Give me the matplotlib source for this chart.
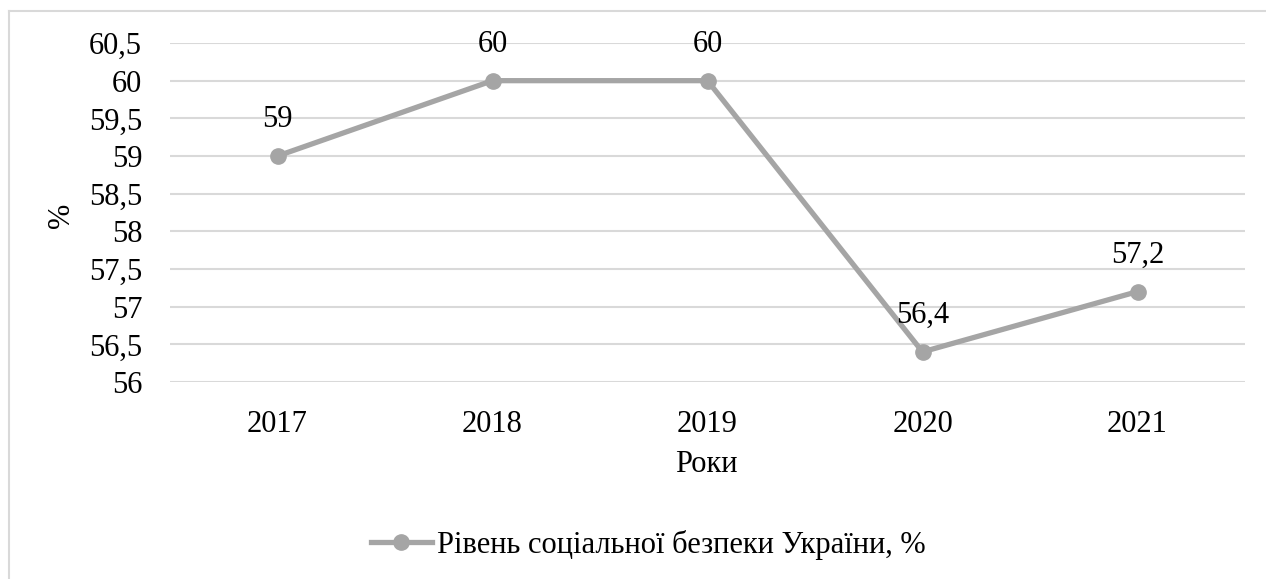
import matplotlib
matplotlib.use("Agg")
from matplotlib import pyplot as plt
from matplotlib.lines import Line2D

# дані
years = ["2017", "2018", "2019", "2020", "2021"]
values = [59, 60, 60, 56.4, 57.2]
value_labels = ["59", "60", "60", "56,4", "57,2"]
y_ticks = [56, 56.5, 57, 57.5, 58, 58.5, 59, 59.5, 60, 60.5]
y_tick_labels = ["56", "56,5", "57", "57,5", "58", "58,5", "59", "59,5", "60", "60,5"]
series_name = "Рівень соціальної безпеки України, %"

plt.rcParams['font.family'] = ['Liberation Serif', 'DejaVu Serif']

grey = '#A5A5A5'
fs = 22
fig = plt.figure(figsize=(12.66, 5.79), dpi=100)
ax = fig.add_axes([170/1266, 1-382/579, 1075/1266, 339/579])

x = list(range(len(years)))
ax.plot(x, values, color=grey, linewidth=3.8, marker='o', markersize=11,
        solid_joinstyle='miter', label=series_name)

for xi, v, lab in zip(x, values, value_labels):
    ax.annotate(lab, (xi, v), xytext=(0, 26), textcoords='offset points',
                ha='center', va='center', fontsize=fs, color='#000000')

ax.set_xlim(-0.5, len(years) - 0.5)
ax.set_ylim(56, 60.5)
ax.set_xticks(x)
ax.set_xticklabels(years, fontsize=fs)
ax.set_yticks(y_ticks)
ax.set_yticklabels(y_tick_labels, fontsize=fs)
ax.tick_params(length=0)
ax.tick_params(axis='y', pad=20)
ax.tick_params(axis='x', pad=20)
for s in ax.spines.values():
    s.set_visible(False)
ax.grid(axis='y', color='#D9D9D9', linewidth=1.5)
ax.set_axisbelow(True)

fig.text(62/1266, 1-215/579, "%", rotation=90, fontsize=fs, ha='center', va='center')
fig.text(706/1266, 1-465/579, "Роки", fontsize=fs, ha='center', va='center')

handle = Line2D([], [], color=grey, linewidth=3.8, marker='o', markersize=11)
fig.legend([handle], [series_name], loc='center', bbox_to_anchor=(648/1266, 1-545/579),
           frameon=False, fontsize=fs, handlelength=2.0, handletextpad=0.15)

# рамка
fig.add_artist(Line2D([9/1266, 9/1266], [0, 1-11/579], color='#D9D9D9', linewidth=1.5))
fig.add_artist(Line2D([9/1266, 1], [1-11/579, 1-11/579], color='#D9D9D9', linewidth=1.5))

fig.savefig("out.png", dpi=100)
